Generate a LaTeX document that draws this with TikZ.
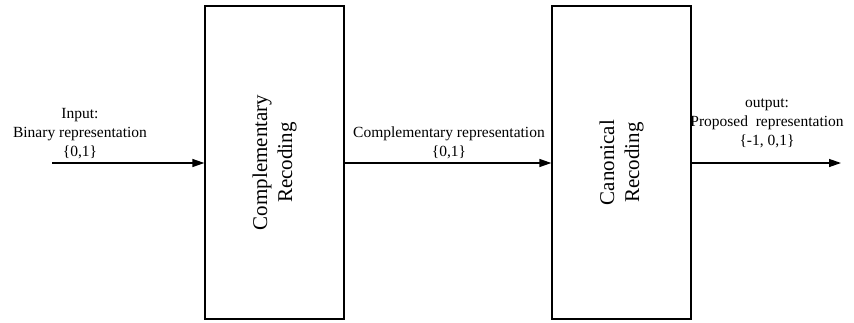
\documentclass[tikz,border=0pt]{standalone}
\usepackage{fontspec}
\setmainfont{Liberation Serif}
\usetikzlibrary{arrows.meta}
\begin{document}
\begin{tikzpicture}[x=1pt,y=-1pt,
  blockbox/.style={draw,line width=1.3pt,minimum width=139pt,minimum height=313pt,inner sep=0pt},
  blocktext/.style={rotate=90,align=center,font=\fontsize{21}{25}\selectfont,inner sep=0pt},
  lbl/.style={align=center,font=\fontsize{15.5}{19}\selectfont,inner sep=0pt},
  flow/.style={line width=1.3pt,-{Triangle[length=12pt,width=8pt]}}]
\useasboundingbox (0,0) rectangle (854,322);
\node[blockbox] (b1) at (274.5,162.5) {};
\node[blockbox,minimum width=139pt] (b2) at (621.5,162.5) {};
\node[blocktext] (t1) at (b1.center) {Complementary\\Recoding};
\node[blocktext] (t2) at (b2.center) {Canonical\\Recoding};
\coordinate (in) at (52,163);
\coordinate (out) at (841,163);
\draw[flow] (in) -- (b1.west |- in);
\draw[flow] (b1.east |- in) -- (b2.west |- in);
\draw[flow] (b2.east |- in) -- (out);
\node[lbl] (l1) at (80,134) {Input:\\Binary representation\\\{0,1\}};
\node[lbl] (l2) at (449,143) {Complementary representation\\\{0,1\}};
\node[lbl] (l3) at (767,123) {output:\\Proposed\ \ representation\\\{-1, 0,1\}};
\end{tikzpicture}
\end{document}
